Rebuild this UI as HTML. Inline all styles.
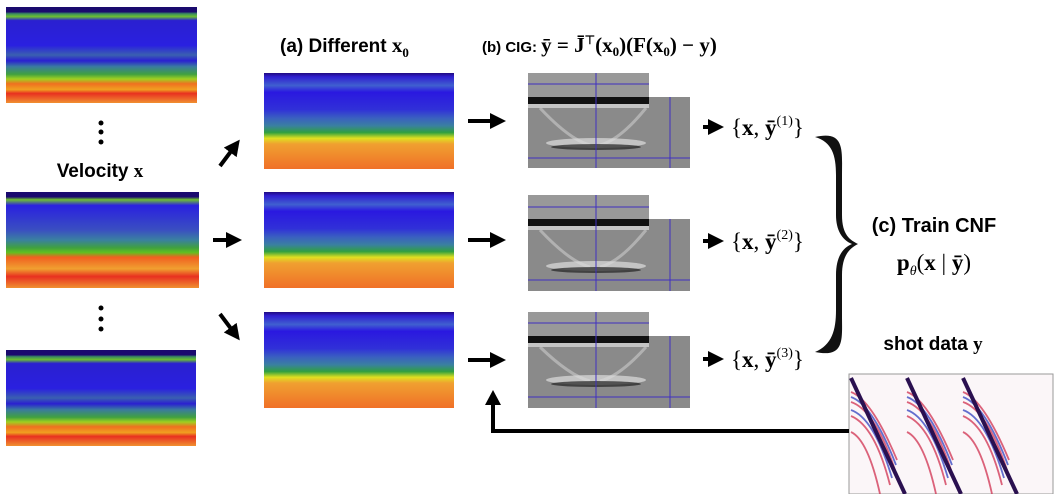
<!DOCTYPE html>
<html><head><meta charset="utf-8"><style>
html,body{margin:0;padding:0;background:#fff;}
body{width:1059px;height:494px;position:relative;overflow:hidden;font-family:"Liberation Sans",sans-serif;}
svg{position:absolute;left:0;top:0;}
.t{font-family:"Liberation Sans",sans-serif;font-weight:bold;fill:#000;}
.m{font-family:"Liberation Serif",serif;font-weight:bold;fill:#000;}
.mi{font-family:"Liberation Serif",serif;fill:#000;}
</style></head><body>
<svg width="1059" height="494" viewBox="0 0 1059 494">
<defs>
<linearGradient id="vel" x1="0" y1="0" x2="0" y2="1">
<stop offset="0" stop-color="#1a0a6e"/><stop offset="0.05" stop-color="#1a0a6e"/>
<stop offset="0.07" stop-color="#3a8a60"/><stop offset="0.1" stop-color="#6cc030"/>
<stop offset="0.14" stop-color="#2a20d0"/><stop offset="0.4" stop-color="#2a20e0"/>
<stop offset="0.5" stop-color="#3a60b0"/><stop offset="0.56" stop-color="#2a20d0"/>
<stop offset="0.62" stop-color="#3a7aa0"/><stop offset="0.7" stop-color="#40a040"/>
<stop offset="0.75" stop-color="#a0d020"/><stop offset="0.8" stop-color="#f07020"/>
<stop offset="0.86" stop-color="#f0a020"/><stop offset="0.9" stop-color="#e83020"/>
<stop offset="1" stop-color="#f09030"/></linearGradient>
<linearGradient id="vel2" x1="0" y1="0" x2="0" y2="1">
<stop offset="0" stop-color="#1a0a6e"/><stop offset="0.05" stop-color="#1a0a6e"/>
<stop offset="0.08" stop-color="#70c030"/><stop offset="0.14" stop-color="#2a20e0"/>
<stop offset="0.4" stop-color="#3a50c0"/><stop offset="0.5" stop-color="#3a80a0"/>
<stop offset="0.58" stop-color="#40a040"/><stop offset="0.63" stop-color="#60c020"/>
<stop offset="0.68" stop-color="#f06020"/><stop offset="0.8" stop-color="#f0a030"/>
<stop offset="0.88" stop-color="#e83020"/><stop offset="1" stop-color="#f09030"/></linearGradient>
<linearGradient id="smooth" x1="0" y1="0" x2="0" y2="1">
<stop offset="0" stop-color="#200a80"/><stop offset="0.04" stop-color="#3020d0"/>
<stop offset="0.13" stop-color="#4060d0"/><stop offset="0.2" stop-color="#2a18e0"/>
<stop offset="0.38" stop-color="#3030d8"/><stop offset="0.47" stop-color="#3a60c0"/>
<stop offset="0.55" stop-color="#3a80a0"/><stop offset="0.62" stop-color="#30a040"/>
<stop offset="0.68" stop-color="#e0e020"/><stop offset="0.74" stop-color="#f0a030"/>
<stop offset="1" stop-color="#f07028"/></linearGradient>
<marker id="ah" markerWidth="4" markerHeight="4" refX="2" refY="2" orient="auto" markerUnits="strokeWidth"><path d="M0,0 L4,2 L0,4 Z" fill="#000"/></marker>
</defs>

<rect x="6" y="7" width="191" height="96" fill="url(#vel)"/>
<rect x="6" y="192" width="193" height="96" fill="url(#vel2)"/>
<rect x="6" y="350" width="190" height="96" fill="url(#vel)"/>
<g><circle cx="101" cy="123" r="2.5"/><circle cx="101" cy="132" r="2.5"/><circle cx="101" cy="142" r="2.5"/></g>
<g><circle cx="101" cy="308" r="2.5"/><circle cx="101" cy="319" r="2.5"/><circle cx="101" cy="329" r="2.5"/></g>
<text x="100" y="177" text-anchor="middle" class="t" font-size="19">Velocity <tspan class="m">x</tspan></text>

<line x1="220" y1="166" x2="235" y2="146" stroke="#000" stroke-width="4" marker-end="url(#ah)"/>
<line x1="213" y1="240" x2="234" y2="240" stroke="#000" stroke-width="4" marker-end="url(#ah)"/>
<line x1="220" y1="314" x2="235" y2="334" stroke="#000" stroke-width="4" marker-end="url(#ah)"/>

<text x="280" y="52" class="t" font-size="19">(a) Different <tspan class="m" font-size="21">x</tspan><tspan class="mi" font-size="13" dy="5">0</tspan></text>
<rect x="264" y="73" width="190" height="96" fill="url(#smooth)"/>
<rect x="264" y="192" width="190" height="96" fill="url(#smooth)"/>
<rect x="264" y="312" width="190" height="96" fill="url(#smooth)"/>

<text x="482" y="52" class="t" font-size="15">(b) CIG: <tspan class="m" font-size="21">ȳ = J̄</tspan><tspan class="mi" font-size="12" dy="-8">⊤</tspan><tspan class="mi" font-size="21" dy="8">(</tspan><tspan class="m" font-size="21">x</tspan><tspan class="mi" font-size="13" dy="4">0</tspan><tspan class="mi" font-size="21" dy="-4">)(</tspan><tspan class="m" font-size="21">F</tspan><tspan class="mi" font-size="21">(</tspan><tspan class="m" font-size="21">x</tspan><tspan class="mi" font-size="13" dy="4">0</tspan><tspan class="mi" font-size="21" dy="-4">) − </tspan><tspan class="m" font-size="21">y</tspan><tspan class="mi" font-size="21">)</tspan></text>

<line x1="468" y1="121" x2="498" y2="121" stroke="#000" stroke-width="4" marker-end="url(#ah)"/>
<line x1="468" y1="240" x2="498" y2="240" stroke="#000" stroke-width="4" marker-end="url(#ah)"/>
<line x1="468" y1="360" x2="498" y2="360" stroke="#000" stroke-width="4" marker-end="url(#ah)"/>

<g>
<rect x="528" y="73" width="121" height="24" fill="#999"/><rect x="528" y="97" width="162" height="71" fill="#8a8a8a"/>
<rect x="528" y="97" width="121" height="7" fill="#111"/><rect x="528" y="104" width="121" height="4" fill="#ddd" opacity="0.7"/>
<path d="M540,108 Q570,140 590,145 M646,108 Q620,140 600,145" stroke="#ccc" stroke-width="3" fill="none" opacity="0.6"/>
<ellipse cx="596" cy="143" rx="50" ry="5" fill="#ddd" opacity="0.7"/><ellipse cx="596" cy="147" rx="45" ry="3" fill="#222" opacity="0.7"/>
<line x1="596" y1="73" x2="596" y2="168" stroke="#4030c0"/><line x1="670" y1="97" x2="670" y2="168" stroke="#4030c0"/><line x1="528" y1="158" x2="690" y2="158" stroke="#4030c0"/><line x1="528" y1="84" x2="649" y2="84" stroke="#4030c0"/></g>
<g>
<rect x="528" y="195" width="121" height="24" fill="#999"/><rect x="528" y="219" width="162" height="72" fill="#8a8a8a"/>
<rect x="528" y="219" width="121" height="7" fill="#111"/><rect x="528" y="226" width="121" height="4" fill="#ddd" opacity="0.7"/>
<path d="M540,230 Q570,262 590,267 M646,230 Q620,262 600,267" stroke="#ccc" stroke-width="3" fill="none" opacity="0.6"/>
<ellipse cx="596" cy="266" rx="50" ry="5" fill="#ddd" opacity="0.7"/><ellipse cx="596" cy="270" rx="45" ry="3" fill="#222" opacity="0.7"/>
<line x1="596" y1="195" x2="596" y2="291" stroke="#4030c0"/><line x1="670" y1="219" x2="670" y2="291" stroke="#4030c0"/><line x1="528" y1="280" x2="690" y2="280" stroke="#4030c0"/><line x1="528" y1="207" x2="649" y2="207" stroke="#4030c0"/></g>
<g>
<rect x="528" y="312" width="121" height="24" fill="#999"/><rect x="528" y="336" width="162" height="72" fill="#8a8a8a"/>
<rect x="528" y="336" width="121" height="7" fill="#111"/><rect x="528" y="343" width="121" height="4" fill="#ddd" opacity="0.7"/>
<path d="M540,347 Q570,376 590,381 M646,347 Q620,376 600,381" stroke="#ccc" stroke-width="3" fill="none" opacity="0.6"/>
<ellipse cx="596" cy="380" rx="50" ry="5" fill="#ddd" opacity="0.7"/><ellipse cx="596" cy="384" rx="45" ry="3" fill="#222" opacity="0.7"/>
<line x1="596" y1="312" x2="596" y2="408" stroke="#4030c0"/><line x1="670" y1="336" x2="670" y2="408" stroke="#4030c0"/><line x1="528" y1="397" x2="690" y2="397" stroke="#4030c0"/><line x1="528" y1="323" x2="649" y2="323" stroke="#4030c0"/></g>

<line x1="703" y1="127" x2="716" y2="127" stroke="#000" stroke-width="4" marker-end="url(#ah)"/>
<line x1="703" y1="241" x2="716" y2="241" stroke="#000" stroke-width="4" marker-end="url(#ah)"/>
<line x1="703" y1="359" x2="716" y2="359" stroke="#000" stroke-width="4" marker-end="url(#ah)"/>
<text x="731" y="135" class="mi" font-size="23">{<tspan class="m">x</tspan>, <tspan class="m">ȳ</tspan><tspan font-size="14" dy="-10">(1)</tspan><tspan dy="10">}</tspan></text>
<text x="731" y="249" class="mi" font-size="23">{<tspan class="m">x</tspan>, <tspan class="m">ȳ</tspan><tspan font-size="14" dy="-10">(2)</tspan><tspan dy="10">}</tspan></text>
<text x="731" y="367" class="mi" font-size="23">{<tspan class="m">x</tspan>, <tspan class="m">ȳ</tspan><tspan font-size="14" dy="-10">(3)</tspan><tspan dy="10">}</tspan></text>

<path d="M815,137 C845,130 842,150 842,175 L842,215 C842,235 850,240 858,244 C850,248 842,255 842,275 L842,315 C842,340 845,358 815,352 C832,345 836,330 836,310 L836,275 C836,258 842,248 852,244 C842,240 836,230 836,215 L836,175 C836,155 832,142 815,137 Z" fill="#111"/>

<text x="934" y="232" text-anchor="middle" class="t" font-size="20">(c) Train CNF</text>
<text x="934" y="270" text-anchor="middle" class="mi" font-size="23"><tspan class="m">p</tspan><tspan font-size="14" font-style="italic" dy="5">θ</tspan><tspan dy="-5">(</tspan><tspan class="m">x</tspan> | <tspan class="m">ȳ</tspan>)</text>
<text x="933" y="350" text-anchor="middle" class="t" font-size="19">shot data <tspan class="m">y</tspan></text>

<g>
<rect x="849" y="374" width="204" height="120" fill="#fbf6f8" stroke="#999"/>
<path d="M851,392 Q872,400 897,460 M851,402 Q875,410 895,470 M851,416 Q875,426 890,485 M851,432 Q868,440 880,494 M907,392 Q928,400 953,460 M907,402 Q931,410 951,470 M907,416 Q931,426 946,485 M907,432 Q924,440 936,494 M963,392 Q984,400 1009,460 M963,402 Q987,410 1007,470 M963,416 Q987,426 1002,485 M963,432 Q980,440 992,494" stroke="#d03050" stroke-width="1.8" fill="none" opacity="0.75"/>
<path d="M851,397 Q873,405 896,465 M851,410 Q874,418 892,478 M907,397 Q929,405 952,465 M907,410 Q930,418 948,478 M963,397 Q985,405 1008,465 M963,410 Q986,418 1004,478" stroke="#3040c0" stroke-width="1.8" fill="none" opacity="0.75"/>
<line x1="851" y1="378" x2="905" y2="494" stroke="#2a1050" stroke-width="4"/>
<line x1="907" y1="378" x2="961" y2="494" stroke="#2a1050" stroke-width="4"/>
<line x1="963" y1="378" x2="1017" y2="494" stroke="#2a1050" stroke-width="4"/>
</g>

<polyline points="849,431 493,431 493,404" fill="none" stroke="#000" stroke-width="4"/>
<path d="M485,405 L493,390 L501,405 Z" fill="#000"/>
</svg>
</body></html>
